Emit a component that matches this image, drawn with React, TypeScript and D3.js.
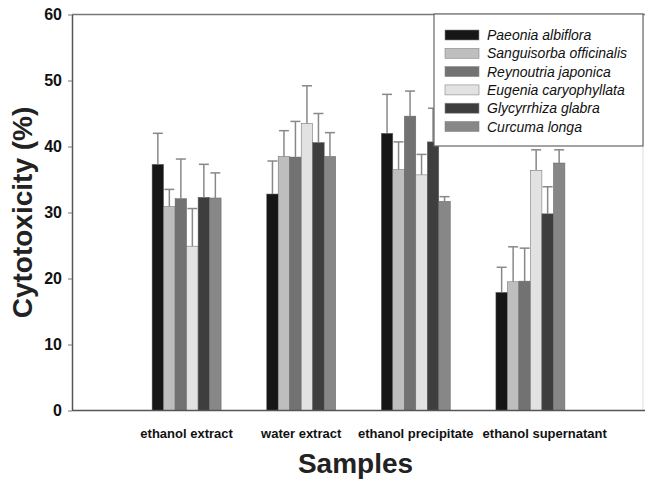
import React, { useRef, useEffect } from "react";
import * as d3 from "d3";

const categories = ["ethanol extract", "water extract", "ethanol precipitate", "ethanol supernatant"];
const species = [
  "Paeonia albiflora",
  "Sanguisorba officinalis",
  "Reynoutria japonica",
  "Eugenia caryophyllata",
  "Glycyrrhiza glabra",
  "Curcuma longa",
];
// mean per species, one entry per category
const paeonia = [37.3, 32.8, 42.0, 17.9];
const sanguisorba = [30.9, 38.5, 36.5, 19.5];
const reynoutria = [32.1, 38.4, 44.6, 19.6];
const eugenia = [24.9, 43.5, 35.7, 36.4];
const glycyrrhiza = [32.3, 40.6, 40.7, 29.8];
const curcuma = [32.2, 38.5, 31.7, 37.5];
// error bar (sd) per species
const paeoniaErr = [4.7, 5.0, 5.9, 3.8];
const sanguisorbaErr = [2.6, 3.9, 4.2, 5.3];
const reynoutriaErr = [6.0, 5.4, 3.8, 5.0];
const eugeniaErr = [5.7, 5.7, 3.1, 3.1];
const glycyrrhizaErr = [5.0, 4.4, 5.1, 4.1];
const curcumaErr = [3.8, 3.6, 0.7, 2.0];
const yTicks = [0, 10, 20, 30, 40, 50, 60];

const colors = ["#161616", "#bebebe", "#727272", "#e2e2e2", "#3e3e3e", "#878787"];

const App = () => {
  const svgRef = useRef<SVGSVGElement>(null);

  useEffect(() => {
    const svg = d3.select(svgRef.current);
    svg.selectAll("*").remove();
    const width = 645,
      height = 479,
      left = 72,
      right = 645,
      top = 14.5,
      bottom = 410.5;

    const means = [paeonia, sanguisorba, reynoutria, eugenia, glycyrrhiza, curcuma];
    const errs = [paeoniaErr, sanguisorbaErr, reynoutriaErr, eugeniaErr, glycyrrhizaErr, curcumaErr];

    const x = d3.scaleLinear().domain([0, 5]).range([left, right]);
    const xInner = d3.scaleBand().domain(species).range([-34.5, 34.5]);
    const y = d3.scaleLinear().domain([0, 60]).range([bottom, top]);

    svg.attr("width", width).attr("height", height);
    svg.append("rect").attr("width", width).attr("height", height).attr("fill", "#fff");

    const font = "Liberation Sans, Arial, sans-serif";

    // bars
    species.forEach((sp, si) => {
      const g = svg.append("g");
      g.selectAll("rect")
        .data(categories)
        .enter()
        .append("rect")
        .attr("x", (d, i) => x(i + 1) + (xInner(sp) as number))
        .attr("y", (d, i) => y(means[si][i]))
        .attr("width", xInner.bandwidth())
        .attr("height", (d, i) => bottom - y(means[si][i]))
        .attr("fill", colors[si])
        .attr("stroke", "#666")
        .attr("stroke-width", 0.5);

      // error bars
      const cx = (i: number) => x(i + 1) + (xInner(sp) as number) + xInner.bandwidth() / 2;
      g.selectAll("line.err")
        .data(categories)
        .enter()
        .append("line")
        .attr("x1", (d, i) => cx(i))
        .attr("x2", (d, i) => cx(i))
        .attr("y1", (d, i) => y(means[si][i]))
        .attr("y2", (d, i) => y(means[si][i] + errs[si][i]))
        .attr("stroke", "#888")
        .attr("stroke-width", 1.5);
      g.selectAll("line.cap")
        .data(categories)
        .enter()
        .append("line")
        .attr("x1", (d, i) => cx(i) - 5)
        .attr("x2", (d, i) => cx(i) + 5)
        .attr("y1", (d, i) => y(means[si][i] + errs[si][i]))
        .attr("y2", (d, i) => y(means[si][i] + errs[si][i]))
        .attr("stroke", "#888")
        .attr("stroke-width", 1.5);
    });

    // frame
    svg.append("line").attr("x1", left).attr("x2", right).attr("y1", top).attr("y2", top)
      .attr("stroke", "#777").attr("stroke-width", 1.5);
    svg.append("line").attr("x1", 643).attr("x2", 643).attr("y1", top).attr("y2", bottom)
      .attr("stroke", "#ddd").attr("stroke-width", 1);

    // y axis
    const yAxis = d3.axisLeft(y).tickValues(yTicks).tickSize(4).tickSizeOuter(0).tickPadding(6);
    const ya = svg.append("g").attr("transform", `translate(${left},0)`).call(yAxis);
    ya.select(".domain").attr("stroke", "#555").attr("stroke-width", 1.5);
    ya.selectAll(".tick line").attr("stroke", "#777");
    ya.selectAll(".tick text")
      .attr("font-family", font)
      .attr("font-weight", "bold")
      .attr("font-size", 16)
      .attr("fill", "#111");

    // x axis
    svg.append("line").attr("x1", left).attr("x2", right).attr("y1", bottom).attr("y2", bottom)
      .attr("stroke", "#555").attr("stroke-width", 1.5);
    const labels = svg.selectAll("text.cat")
      .data(categories)
      .enter()
      .append("text")
      .attr("class", "cat")
      .attr("x", (d, i) => x(i + 1))
      .attr("y", 438)
      .attr("text-anchor", "middle")
      .attr("font-family", font)
      .attr("font-weight", "bold")
      .attr("font-size", 13)
      .attr("fill", "#111")
      .text((d) => d);
    // push labels right so they don't run into each other
    let prevRight = -Infinity;
    labels.each(function () {
      const el = this as SVGTextElement;
      const b = el.getBBox();
      const shift = Math.max(0, prevRight + 9 - b.x);
      if (shift > 0) el.setAttribute("x", String(+el.getAttribute("x")! + shift));
      prevRight = b.x + b.width + shift;
    });

    // titles
    svg.append("text")
      .attr("transform", `translate(${x(2.5) - 3},473)`)
      .attr("text-anchor", "middle")
      .attr("font-family", font)
      .attr("font-weight", "bold")
      .attr("font-size", 28)
      .attr("fill", "#222")
      .text("Samples");
    svg.append("text")
      .attr("transform", `translate(32,${(top + bottom) / 2}) rotate(-90)`)
      .attr("text-anchor", "middle")
      .attr("font-family", font)
      .attr("font-weight", "bold")
      .attr("font-size", 28)
      .attr("fill", "#222")
      .text("Cytotoxicity (%)");

    // legend
    const lg = svg.append("g").attr("transform", "translate(434,14)");
    lg.append("rect").attr("width", 209).attr("height", 132).attr("fill", "#fff")
      .attr("stroke", "#666").attr("stroke-width", 1.2);
    const items = lg.selectAll("g.item").data(species).enter().append("g")
      .attr("transform", (d, i) => `translate(0,${21 + i * 18.3})`);
    items.append("rect").attr("x", 11).attr("y", -5).attr("width", 34).attr("height", 10)
      .attr("fill", (d, i) => colors[i]).attr("stroke", "#888").attr("stroke-width", 0.6);
    items.append("text").attr("x", 53).attr("y", 5)
      .attr("font-family", font)
      .attr("font-style", "italic")
      .attr("font-size", 14)
      .attr("fill", "#111")
      .text((d) => d);
  }, []);

  return (
    <svg
      ref={svgRef}
      style={{ position: "absolute", left: 0, top: 0, display: "block" }}
    ></svg>
  );
};

export default App;
